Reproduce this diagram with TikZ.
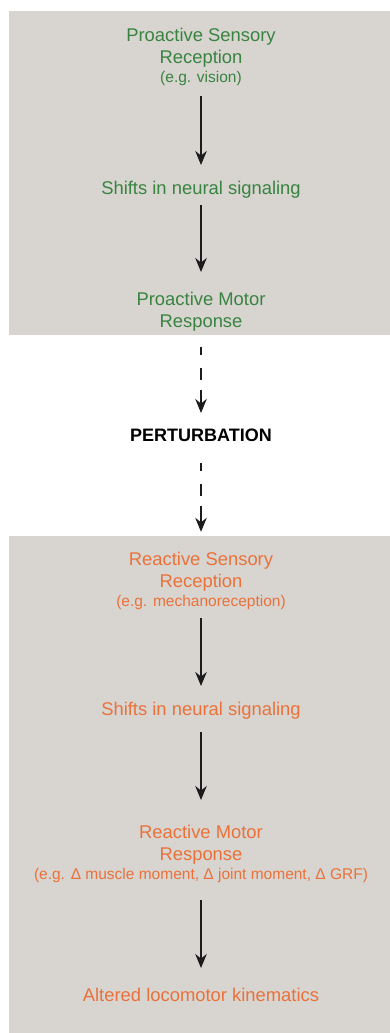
\documentclass[tikz,border=0pt]{standalone}
\usepackage{fontspec}
\setmainfont{Liberation Sans}
\usetikzlibrary{arrows.meta}
\definecolor{bggray}{RGB}{216,212,208}
\definecolor{progreen}{RGB}{56,132,64}
\definecolor{reorange}{RGB}{234,114,58}
\definecolor{arrowc}{RGB}{28,28,28}
\tikzset{
  lbl/.style={align=center, inner sep=0pt, anchor=north, font=\fontsize{18.4}{22.5}\selectfont},
  pro/.style={lbl, text=progreen},
  rea/.style={lbl, text=reorange},
  arr/.style={draw=arrowc, line width=1.5pt, -{Stealth[length=14pt,width=11.5pt,inset=4.5pt]}},
  darr/.style={arr, dash pattern=on 8pt off 13pt on 12pt off 10pt on 30pt},
}
\newcommand{\smalltxt}[1]{{\fontsize{15.5}{18.5}\selectfont #1}}
\begin{document}
\begin{tikzpicture}[x=1pt,y=-1pt]
\useasboundingbox (0,0) rectangle (390,1033);
\fill[white] (0,0) rectangle (390,1033);
\fill[bggray] (9,11) rectangle (390,335);
\fill[bggray] (9,536) rectangle (390,1033);

\node[pro] (ps) at (201,27.6) {Proactive Sensory\\Reception\\[-4pt]\smalltxt{(e.g. vision)}};
\node[pro] (sh1) at (201,180.6) {Shifts in neural signaling};
\node[pro] (pm) at (201,291.6) {Proactive Motor\\Response};
\node[lbl, text=black, font=\fontsize{18}{22}\selectfont\bfseries] (pert) at (201,429) {PERTURBATION};
\node[rea] (rs) at (201,551.8) {Reactive Sensory\\Reception\\[-4pt]\smalltxt{(e.g. mechanoreception)}};
\node[rea] (sh2) at (201,701.6) {Shifts in neural signaling};
\node[rea] (rm) at (201,824.8) {Reactive Motor\\Response\\[-4pt]\smalltxt{(e.g. Δ muscle moment, Δ joint moment, Δ GRF)}};
\node[rea] (alt) at (201,987.6) {Altered locomotor kinematics};

\draw[arr] ([yshift=-10pt]ps.south) -- ([yshift=15.6pt]sh1.north);
\draw[arr] ([yshift=-7pt]sh1.south) -- ([yshift=19.6pt]pm.north);
\draw[darr] ([yshift=-15pt]pm.south) -- ([yshift=16pt]pert.north);
\draw[darr] ([yshift=-21pt]pert.south) -- ([yshift=20pt]rs.north);
\draw[arr] ([yshift=-8.7pt]rs.south) -- ([yshift=15.6pt]sh2.north);
\draw[arr] ([yshift=-13pt]sh2.south) -- ([yshift=24.8pt]rm.north);
\draw[arr] ([yshift=-17.7pt]rm.south) -- ([yshift=19.6pt]alt.north);
\end{tikzpicture}
\end{document}
